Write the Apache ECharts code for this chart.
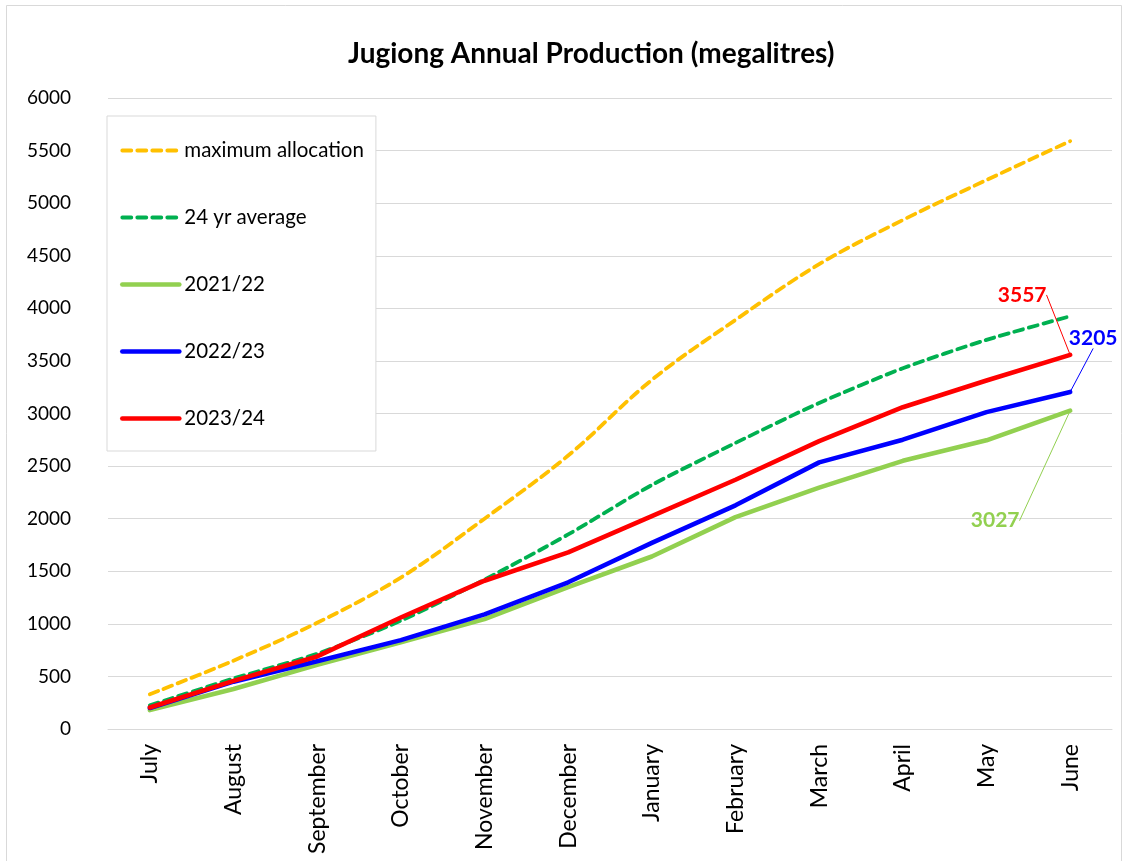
<!DOCTYPE html>
<html>
<head>
<meta charset="utf-8">
<script src="https://cdn.jsdelivr.net/npm/echarts@6/dist/echarts.min.js"></script>
<style>
html,body{margin:0;padding:0;background:#fff;}
#chart{width:1128px;height:861px;}
</style>
</head>
<body>
<div id="chart"></div>
<script>
const months = ['July','August','September','October','November','December','January','February','March','April','May','June'];
const maxAllocation = [330, 650, 1010, 1440, 2000, 2600, 3320, 3890, 4420, 4840, 5220, 5590];
const avg24 = [225, 480, 715, 1030, 1420, 1850, 2320, 2720, 3100, 3430, 3700, 3925];
const y2122 = [180, 380, 610, 825, 1045, 1350, 1640, 2015, 2295, 2550, 2745, 3027];
const y2223 = [200, 450, 645, 845, 1090, 1395, 1770, 2127, 2535, 2751, 3013, 3205];
const y2324 = [205, 458, 690, 1060, 1410, 1680, 2025, 2370, 2738, 3060, 3314, 3557];
const yTicks = {min: 0, max: 6000, interval: 500};

const FONT = 'Lato, "Open Sans", sans-serif';

function lastLabelData(arr, color) {
  return arr.map((v, i) => {
    if (i !== arr.length - 1) return v;
    return {
      value: v,
      symbol: 'circle', symbolSize: 2,
      itemStyle: {color: color},
      label: {
        show: true, position: 'inside', color: color, fontWeight: 'bold',
        fontSize: 21, fontFamily: FONT, formatter: '{c}'
      }
    };
  });
}

const chart = echarts.init(document.getElementById('chart'), null, {renderer: 'canvas'});
const seriesDefs = [
  {name: 'maximum allocation', data: maxAllocation, color: '#FFC000', dashed: true, smooth: 0.35},
  {name: '24 yr average', data: avg24, color: '#00B050', dashed: true, smooth: 0.25},
  {name: '2021/22', data: lastLabelData(y2122, '#92D050'), color: '#92D050', dashed: false, offset: [-75, 110]},
  {name: '2022/23', data: lastLabelData(y2223, '#0000FF'), color: '#0000FF', dashed: false, offset: [23, -54]},
  {name: '2023/24', data: lastLabelData(y2324, '#FF0000'), color: '#FF0000', dashed: false, offset: [-48, -60]}
];
const lineStyleOf = s => ({color: s.color, width: s.dashed ? 3.8 : 4.6, type: s.dashed ? [9, 6] : 'solid', cap: 'round', join: 'round'});
const series = seriesDefs.map(s => {
  const o = {
    name: s.name, type: 'line', data: s.data, symbol: 'none', smooth: s.smooth || false,
    color: s.color,
    itemStyle: {color: s.color},
    lineStyle: lineStyleOf(s),
    emphasis: {disabled: true},
    animation: false
  };
  if (s.offset) {
    o.labelLayout = function () {
      return {dx: s.offset[0], dy: s.offset[1]};
    };
    o.labelLine = {show: true, lineStyle: {color: s.color, width: 1}};
  }
  return o;
});

chart.setOption({
  backgroundColor: '#fff',
  animation: false,
  title: {
    text: 'Jugiong Annual Production (megalitres)',
    left: 343, top: 35,
    textStyle: {fontFamily: FONT, fontSize: 28, fontWeight: 'bold', color: '#000'}
  },
  graphic: [{
    type: 'rect', silent: true,
    shape: {x: 6.5, y: 5.5, width: 1115, height: 870},
    style: {fill: 'none', stroke: '#d9d9d9', lineWidth: 1}
  }],
  legend: {
    orient: 'vertical', left: 107, top: 116,
    padding: [24, 12, 22, 13],
    itemWidth: 57, itemHeight: 14, itemGap: 46,
    backgroundColor: '#fff',
    borderColor: '#d9d9d9', borderWidth: 1,
    itemStyle: {opacity: 0},
    textStyle: {fontFamily: FONT, fontSize: 20.5, color: '#000'},
    data: seriesDefs.map(s => ({name: s.name, itemStyle: {opacity: 0}, lineStyle: lineStyleOf(s)}))
  },
  grid: {left: 108, right: 16, top: 98, bottom: 132, containLabel: false},
  xAxis: {
    type: 'category', data: months, boundaryGap: true,
    axisLine: {show: true, lineStyle: {color: '#d9d9d9', width: 1}},
    axisTick: {show: false},
    axisLabel: {rotate: 90, interval: 0, margin: 15, fontFamily: FONT, fontSize: 23, color: '#000'}
  },
  yAxis: {
    type: 'value', min: yTicks.min, max: yTicks.max, interval: yTicks.interval,
    axisLine: {show: false}, axisTick: {show: false},
    axisLabel: {margin: 37, fontFamily: FONT, fontSize: 19, color: '#000', formatter: v => String(v)},
    splitLine: {lineStyle: {color: '#d9d9d9', width: 1}}
  },
  series: series
});
</script>
</body>
</html>
